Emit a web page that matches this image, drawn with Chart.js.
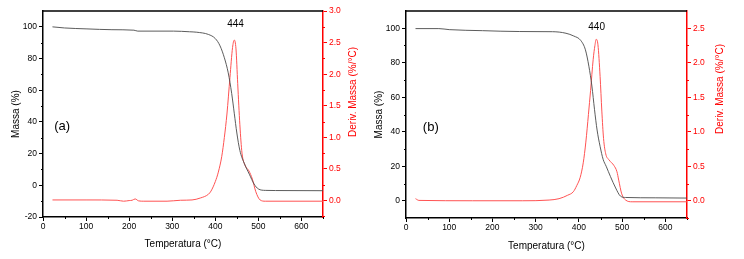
<!DOCTYPE html>
<html>
<head>
<meta charset="utf-8">
<script src="https://cdn.jsdelivr.net/npm/chart.js@4.4.0/dist/chart.umd.min.js"></script>
<style>
  html, body { margin: 0; padding: 0; background: #fff; }
  #wrap { position: relative; width: 744px; height: 259px; }
  canvas { position: absolute; top: 0; }
</style>
</head>
<body>
<div id="wrap">
  <canvas id="chartA" width="372" height="259" style="left:0"></canvas>
  <canvas id="chartB" width="372" height="259" style="left:372px"></canvas>
</div>
<script>
// --- panel (a) ---
const tempMassaA = [22, 50, 102, 160, 211, 220, 303, 340, 357, 384, 400, 411, 421, 430, 438, 444, 450, 457, 467, 479, 490, 500, 516, 540, 650];
const massaA     = [100, 99.3, 98.7, 98.2, 97.9, 97.3, 97.3, 96.9, 96.6, 95.2, 92.6, 88, 80.5, 71, 58, 45.5, 33, 22, 14, 7, 0.8, -2.3, -3.2, -3.3, -3.4];
const tempDerivA = [22, 100, 172, 187, 200, 207, 214, 222, 234, 288, 319, 346, 365, 384, 390, 400, 407, 415, 421, 427, 434, 440, 444, 448, 452, 457, 462, 469, 478, 486, 494, 504, 516, 650];
const derivA     = [0.01, 0.01, 0.005, -0.01, 0.0, 0.005, 0.026, -0.005, -0.01, -0.01, 0.005, 0.01, 0.04, 0.1, 0.15, 0.3, 0.45, 0.7, 1.0, 1.37, 1.95, 2.42, 2.54, 2.4, 1.85, 1.2, 0.75, 0.56, 0.47, 0.34, 0.14, 0.01, -0.01, -0.01];

// --- panel (b) ---
const tempMassaB = [22, 76, 100, 177, 262, 339, 370, 388, 404, 415, 423, 430, 436, 442, 449, 456, 463, 473, 485, 496, 508, 578, 650];
const massaB     = [99.8, 99.8, 99.2, 98.6, 98.1, 98.0, 97.1, 95.5, 93, 87.5, 78, 66.5, 53, 41, 31.5, 24, 20, 14, 7.4, 2.7, 1.9, 1.7, 1.55];
const tempDerivB = [22, 30, 154, 270, 331, 354, 374, 387, 395, 403, 410, 416, 422, 427, 433, 437, 440, 444, 449, 453, 457, 462, 470, 481, 488, 492, 499, 508, 523, 650];
const derivB     = [0.03, 0.005, 0.0, 0.0, 0.01, 0.03, 0.08, 0.13, 0.22, 0.34, 0.55, 0.85, 1.25, 1.6, 2.05, 2.25, 2.34, 2.26, 1.8, 1.3, 0.9, 0.68, 0.59, 0.51, 0.42, 0.3, 0.1, 0.01, -0.015, -0.015];

// tick labels
const tempTicks   = [0, 100, 200, 300, 400, 500, 600];
const massaTicksA = [-20, 0, 20, 40, 60, 80, 100];
const massaTicksB = [0, 20, 40, 60, 80, 100];
const derivTicksA = [0.0, 0.5, 1.0, 1.5, 2.0, 2.5, 3.0];
const derivTicksB = [0.0, 0.5, 1.0, 1.5, 2.0, 2.5];

const FONT = '"Liberation Sans", Arial, Helvetica, sans-serif';
Chart.defaults.font.family = FONT;

const pairs = (xs, ys) => xs.map((x, i) => ({ x: x, y: ys[i] }));

// top border, minor ticks, right title and text labels
const extras = {
  id: 'extras',
  afterDraw(chart, args, o) {
    const { ctx, chartArea: a, scales } = chart;
    ctx.save();
    ctx.strokeStyle = '#000';
    ctx.lineWidth = 1.5;
    ctx.beginPath();
    ctx.moveTo(a.left, a.top);
    ctx.lineTo(a.right, a.top);
    ctx.stroke();

    ctx.lineWidth = 1;
    ctx.beginPath();
    for (let v = 50; v <= 650; v += 100) {
      const px = Math.round(scales.x.getPixelForValue(v)) + 0.5;
      ctx.moveTo(px, a.bottom); ctx.lineTo(px, a.bottom + 2);
    }
    for (let v = -10; v < 110; v += 20) {
      const py = scales.y.getPixelForValue(v);
      if (py > a.bottom - 1) continue;
      ctx.moveTo(a.left, Math.round(py) + 0.5); ctx.lineTo(a.left - 2, Math.round(py) + 0.5);
    }
    ctx.stroke();

    ctx.strokeStyle = '#ff0000';
    ctx.beginPath();
    for (let v = -0.25; v < scales.y1.max; v += 0.5) {
      const py = scales.y1.getPixelForValue(v);
      if (py > a.bottom + 0.5) continue;
      ctx.moveTo(a.right, Math.round(py) + 0.5); ctx.lineTo(a.right + 2, Math.round(py) + 0.5);
    }
    ctx.stroke();

    ctx.fillStyle = '#ff0000';
    ctx.font = '10px ' + FONT;
    ctx.textAlign = 'center';
    ctx.textBaseline = 'middle';
    ctx.translate(o.rightTitleX, o.rightTitleY);
    ctx.rotate(-Math.PI / 2);
    ctx.fillText('Deriv. Massa (%/°C)', 0, 0);
    ctx.restore();

    ctx.save();
    ctx.fillStyle = '#000';
    ctx.textAlign = 'center';
    ctx.textBaseline = 'middle';
    ctx.font = '10px ' + FONT;
    ctx.fillText(o.peak[0], scales.x.getPixelForValue(o.peak[1]), scales.y.getPixelForValue(o.peak[2]));
    ctx.font = '13px ' + FONT;
    ctx.fillText(o.tag[0], scales.x.getPixelForValue(o.tag[1]), scales.y.getPixelForValue(o.tag[2]));
    ctx.restore();
  }
};

function makePanel(id, p) {
  return new Chart(document.getElementById(id), {
    type: 'line',
    data: {
      datasets: [
        {
          data: pairs(p.tm, p.m),
          yAxisID: 'y',
          borderColor: '#4a4a4a',
          borderWidth: 0.9,
          pointRadius: 0,
          cubicInterpolationMode: 'monotone'
        },
        {
          data: pairs(p.td, p.d),
          yAxisID: 'y1',
          borderColor: '#ff5252',
          borderWidth: 1,
          pointRadius: 0,
          cubicInterpolationMode: 'monotone'
        }
      ]
    },
    options: {
      responsive: false,
      animation: false,
      devicePixelRatio: 1,
      layout: { padding: { top: p.top, left: 0, right: 0, bottom: 0 } },
      plugins: {
        legend: { display: false },
        tooltip: { enabled: false },
        extras: { rightTitleX: p.rtx, rightTitleY: p.rty, peak: p.peak, tag: p.tag }
      },
      scales: {
        x: {
          type: 'linear',
          min: 0,
          max: 650,
          afterBuildTicks: s => { s.ticks = tempTicks.map(v => ({ value: v })); },
          afterFit: s => { s.height = 259 - p.bottom; },
          grid: { drawOnChartArea: false, tickLength: 4, tickColor: '#000', tickWidth: 1 },
          border: { color: '#000', width: 1.5 },
          ticks: { color: '#000', font: { size: 8.5 }, padding: 1, maxRotation: 0, autoSkip: false },
          title: {
            display: true,
            text: 'Temperatura (°C)',
            color: '#000',
            font: { size: 10 },
            padding: { top: 0, bottom: p.xtPad }
          }
        },
        y: {
          position: 'left',
          min: p.yMin,
          max: 110,
          afterBuildTicks: s => { s.ticks = p.mTicks.map(v => ({ value: v })); },
          afterFit: s => { s.width = p.left; },
          grid: { drawOnChartArea: false, tickLength: 4, tickColor: '#000', tickWidth: 1 },
          border: { color: '#000', width: 1.5 },
          ticks: { color: '#000', font: { size: 8.5 }, padding: 2 },
          title: {
            display: true,
            text: 'Massa (%)',
            color: '#000',
            font: { size: 10 },
            padding: { top: p.ytPad, bottom: 0 }
          }
        },
        y1: {
          position: 'right',
          min: p.dMin,
          max: p.dMax,
          afterBuildTicks: s => { s.ticks = p.dTicks.map(v => ({ value: v })); },
          afterFit: s => { s.width = 372 - p.right; },
          grid: { drawOnChartArea: false, tickLength: 4, tickColor: '#ff0000', tickWidth: 1 },
          border: { color: '#ff0000', width: 1.5 },
          ticks: { color: '#ff0000', font: { size: 8.5 }, padding: 2, callback: v => Number(v).toFixed(1) }
        }
      }
    },
    plugins: [extras]
  });
}

makePanel('chartA', {
  tm: tempMassaA, m: massaA, td: tempDerivA, d: derivA,
  top: 11, left: 43, right: 323, bottom: 217,
  yMin: -20, mTicks: massaTicksA,
  dMin: -0.26, dMax: 3.0, dTicks: derivTicksA,
  xtPad: 8.7, ytPad: 10.7, rtx: 353, rty: 92,
  peak: ['444', 447, 101.5], tag: ['(a)', 44.6, 37.2]
});

makePanel('chartB', {
  tm: tempMassaB, m: massaB, td: tempDerivB, d: derivB,
  top: 11, left: 34, right: 315, bottom: 218,
  yMin: -10, mTicks: massaTicksB,
  dMin: -0.25, dMax: 2.75, dTicks: derivTicksB,
  xtPad: 6.3, ytPad: 1.2, rtx: 348, rty: 89,
  peak: ['440', 441, 100.4], tag: ['(b)', 57.4, 42.7]
});
</script>
</body>
</html>
